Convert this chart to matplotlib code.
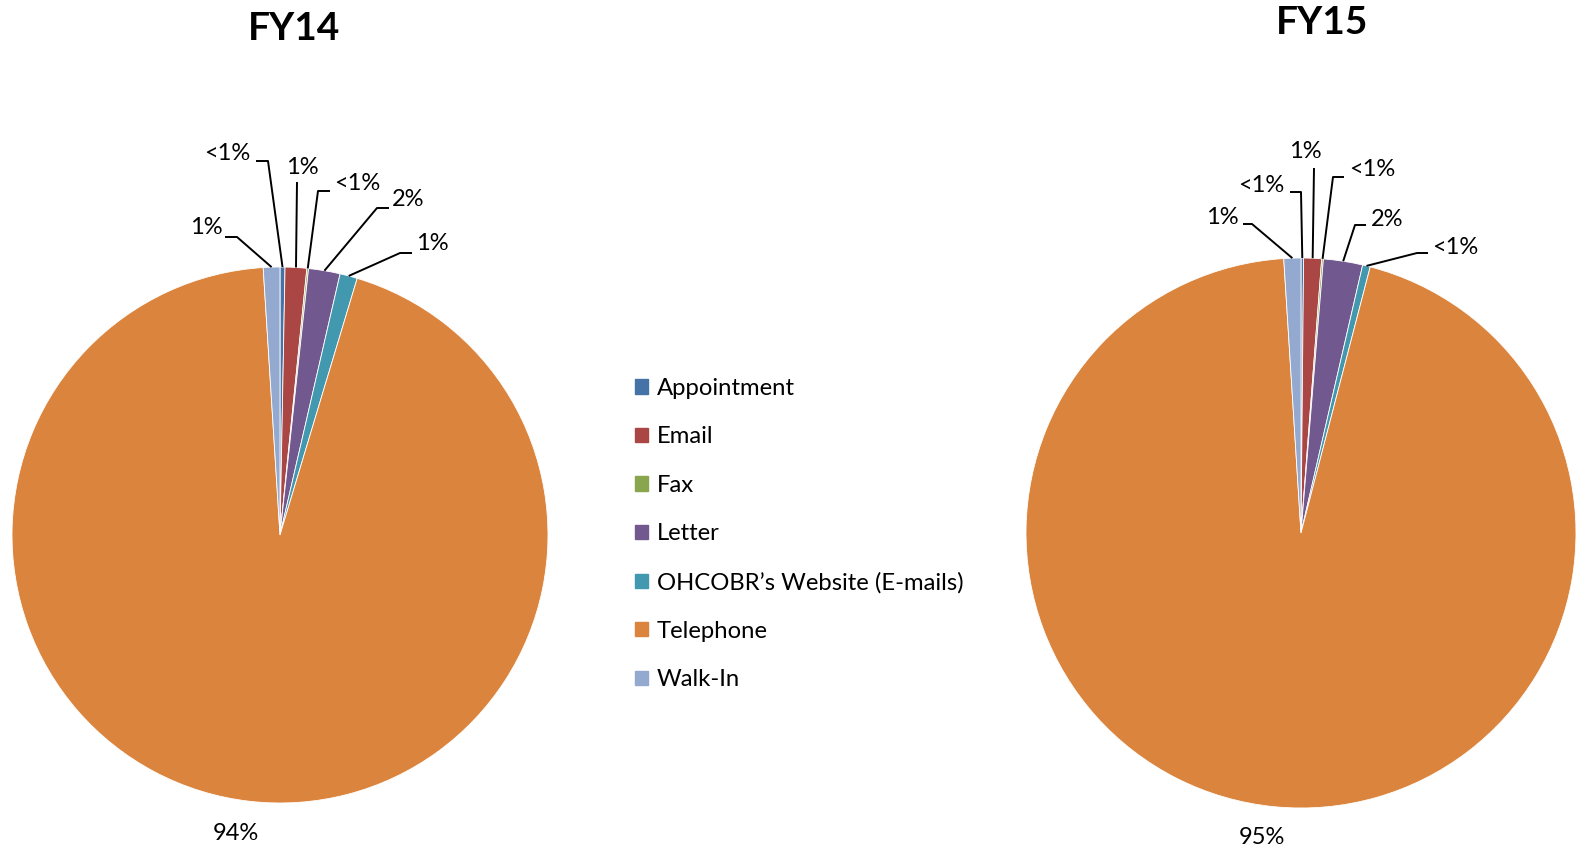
import matplotlib.pyplot as plt
import numpy as np

# Contact channels and their share of contacts (%) per fiscal year
channels = ['Appointment', 'Email', 'Fax', 'Letter',
            'OHCOBR\u2019s Website (E-mails)', 'Telephone', 'Walk-In']
fy14 = [0.3, 1.3, 0.1, 1.9, 1.05, 94.35, 1.0]
fy15 = [0.15, 1.05, 0.1, 2.3, 0.45, 94.95, 1.0]
colors = ['#4572A7', '#AA4643', '#89A54E', '#71588F', '#4198AF', '#DB843D', '#93A9CF']

W, H = 1577, 851
plt.rcParams['font.family'] = ['Lato', 'DejaVu Sans']

fig = plt.figure(figsize=(W / 100, H / 100), dpi=100)
ax = fig.add_axes([0, 0, 1, 1])


def pct_label(v):
    return '<1%' if v < 1 else f'{v:.0f}%'


def draw_pie(values, cx, cy, r, title, title_xy, labels_layout, big_xy):
    # cy is measured from the top of the figure
    wedges, _ = ax.pie(values, colors=colors, startangle=90, counterclock=False,
                       center=(cx, H - cy), radius=r,
                       wedgeprops=dict(linewidth=0.6, edgecolor='white'))
    ax.text(title_xy[0], H - title_xy[1], title, fontsize=28, fontweight='bold',
            ha='center', va='center')
    for w, v, lay in zip(wedges, values, labels_layout):
        if lay is None:
            continue
        (tx, ty), knee = lay
        mid = np.deg2rad((w.theta1 + w.theta2) / 2)
        px, py = cx + r * np.cos(mid), H - cy + r * np.sin(mid)
        ax.text(tx, H - ty, pct_label(v), fontsize=17, ha='center', va='center')
        xs = [k[0] for k in knee] + [px]
        ys = [H - k[1] for k in knee] + [py]
        ax.plot(xs, ys, color='black', lw=1.4, solid_capstyle='butt')
    ax.text(big_xy[0], H - big_xy[1], pct_label(values[5]), fontsize=17,
            ha='center', va='center')


# label position and leader line elbow for each slice (Telephone is labelled below)
layout14 = [
    ((227, 154), [(256, 161), (268, 161)]),
    ((302, 167), [(297, 182)]),
    ((357, 183), [(330, 191), (318, 191)]),
    ((408, 200), [(389, 208), (377, 208)]),
    ((432, 244), [(412, 253), (400, 253)]),
    None,
    ((206, 228), [(225, 237), (237, 237)]),
]
layout15 = [
    ((1261, 186), [(1290, 192), (1301, 192)]),
    ((1305, 152), [(1314, 168)]),
    ((1372, 170), [(1344, 177), (1333, 177)]),
    ((1387, 219), [(1366, 225), (1355, 225)]),
    ((1455, 247), [(1428, 253), (1417, 253)]),
    None,
    ((1222, 217), [(1243, 224), (1252, 224)]),
]

draw_pie(fy14, 280, 535, 268, 'FY14', (294, 28), layout14, (236, 834))
draw_pie(fy15, 1301, 533, 275, 'FY15', (1322, 22), layout15, (1262, 838))

ax.set_xlim(0, W)
ax.set_ylim(0, H)
ax.set_aspect('equal')
ax.axis('off')

# legend in the middle
handles = [plt.Rectangle((0, 0), 1, 1, color=c) for c in colors]
fig.legend(handles, channels, loc='center left', bbox_to_anchor=(613 / W, 1 - 534 / H),
           frameon=False, fontsize=17.2, handlelength=0.55, handleheight=0.55,
           handletextpad=0.38, labelspacing=1.15)

plt.savefig('out.png', dpi=100)
